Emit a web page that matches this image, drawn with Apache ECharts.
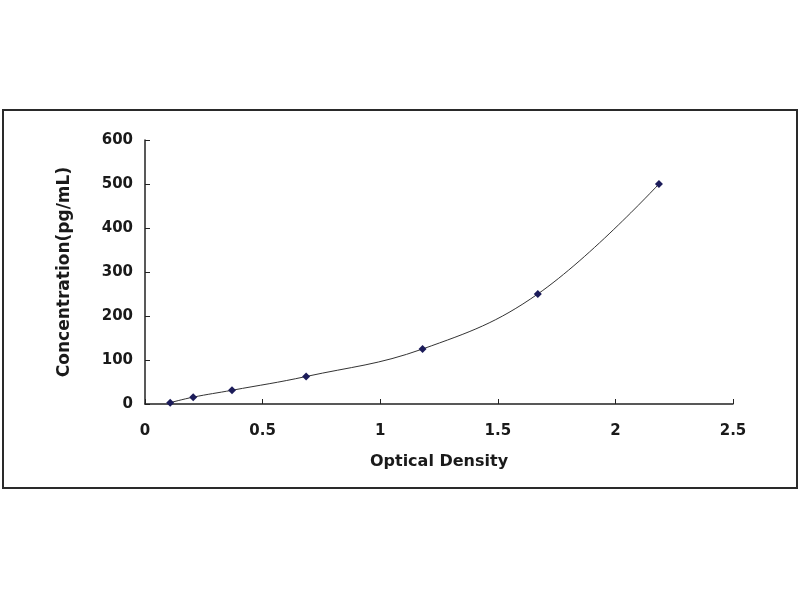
<!DOCTYPE html>
<html>
<head>
<meta charset="utf-8">
<script src="https://cdn.jsdelivr.net/npm/echarts@6/dist/echarts.min.js"></script>
<style>
  html, body { margin: 0; padding: 0; background: #fff; }
  #frame { position: absolute; left: 2px; top: 109px; width: 792px; height: 376px; border: 2px solid #2a2a2a; }
  #chart { position: absolute; left: 0; top: 0; width: 800px; height: 600px; }
</style>
</head>
<body>
<div id="frame"></div>
<div id="chart"></div>
<script>
  // standard curve
  const odValues = [0.107, 0.205, 0.37, 0.685, 1.18, 1.67, 2.185];
  const concValues = [3, 15.6, 31.25, 62.5, 125, 250, 500];
  const xTicks = [0, 0.5, 1, 1.5, 2, 2.5];
  const yTicks = [0, 100, 200, 300, 400, 500, 600];

  const points = odValues.map((v, i) => [v, concValues[i]]);
  const font = { color: '#1a1a1a', fontFamily: 'DejaVu Sans', fontWeight: 'bold', fontSize: 15 };

  const chart = echarts.init(document.getElementById('chart'), null, { renderer: 'canvas' });
  chart.setOption({
    backgroundColor: 'transparent',
    animation: false,
    grid: { left: 145, right: 67, top: 140, bottom: 196 },
    xAxis: {
      type: 'value', min: xTicks[0], max: xTicks[xTicks.length - 1], interval: 0.5,
      name: 'Optical Density', nameLocation: 'middle', nameGap: 50,
      nameTextStyle: Object.assign({}, font, { fontSize: 16 }),
      axisLine: { show: true, lineStyle: { color: '#222', width: 1.5 } },
      axisTick: { show: true, inside: true, length: 5, lineStyle: { color: '#222' } },
      axisLabel: Object.assign({}, font, { margin: 20 }),
      splitLine: { show: false },
    },
    yAxis: {
      type: 'value', min: yTicks[0], max: yTicks[yTicks.length - 1], interval: 100,
      name: 'Concentration(pg/mL)', nameLocation: 'middle', nameGap: 72,
      nameTextStyle: Object.assign({}, font, { fontSize: 17 }),
      axisLine: { show: true, lineStyle: { color: '#222', width: 1.5 } },
      axisTick: { show: true, inside: true, length: 5, lineStyle: { color: '#222' } },
      axisLabel: Object.assign({}, font, { margin: 12 }),
      splitLine: { show: false },
    },
    series: [{
      type: 'line', data: points, smooth: 0.4,
      symbol: 'diamond', symbolSize: 8,
      itemStyle: { color: '#1c1c5a' },
      lineStyle: { color: '#333', width: 1 },
    }],
  });
</script>
</body>
</html>
